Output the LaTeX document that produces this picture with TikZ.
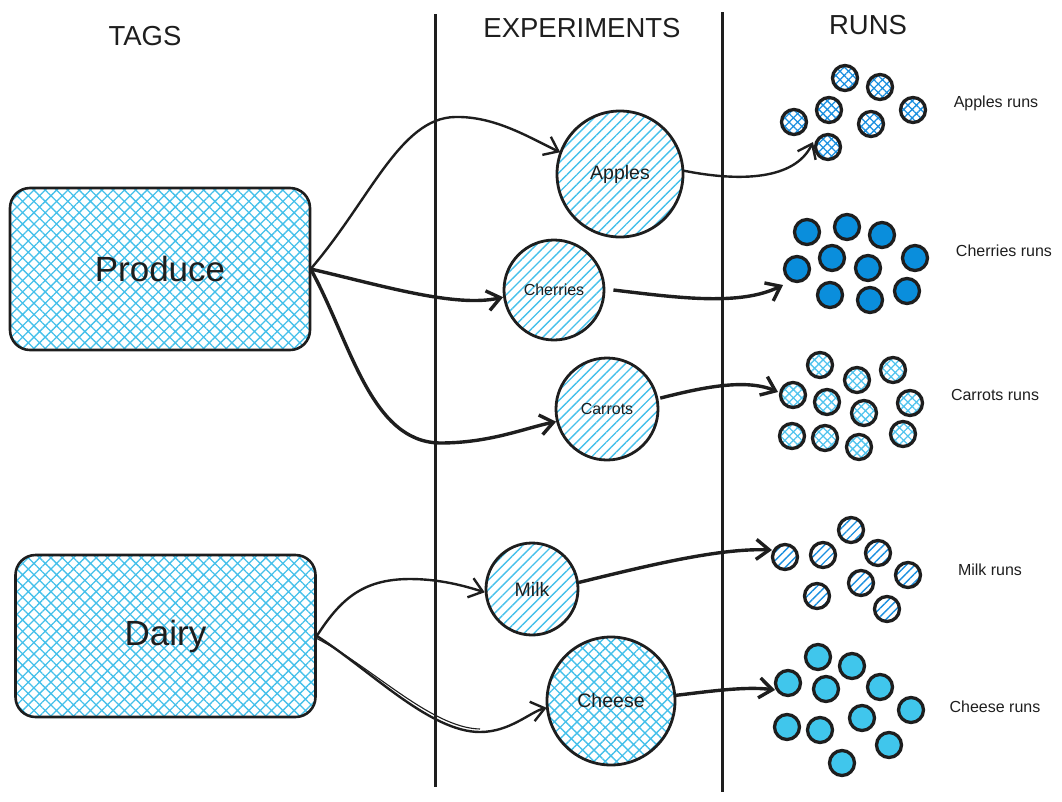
\documentclass[tikz,border=0pt]{standalone}
\usepackage{fontspec}
\setmainfont{Liberation Sans}
\usetikzlibrary{patterns.meta,arrows.meta}
\definecolor{hatchc}{HTML}{45C0EA}
\definecolor{deepc}{HTML}{1A8FE0}
\definecolor{cherryc}{HTML}{0A8EDC}
\definecolor{cheesec}{HTML}{40C6EC}
\definecolor{carrotc}{HTML}{52C4EE}
\definecolor{ink}{HTML}{1E1E1E}
\begin{document}
\begin{tikzpicture}[x=1pt,y=-1pt,
  tagbox/.style={draw=ink, line width=2.6pt, rounded corners=20pt, minimum width=300pt, minimum height=162pt,
    pattern={Hatch[angle=45,distance=8pt,line width=1.3pt]}, pattern color=hatchc,
    font=\fontsize{35}{40}\selectfont, text=ink},
  expc/.style={circle, draw=ink, line width=2.8pt, inner sep=0pt, text=ink,
    pattern={Lines[angle=45,distance=7pt,line width=1.4pt]}, pattern color=hatchc},
  expx/.style={circle, draw=ink, line width=2.8pt, inner sep=0pt, text=ink,
    pattern={Hatch[angle=45,distance=8pt,line width=1.4pt]}, pattern color=hatchc},
  runbase/.style={circle, draw=ink, line width=3.3pt, inner sep=0pt, minimum size=25pt},
  runA/.style={runbase, pattern={Hatch[angle=45,distance=6pt,line width=1.3pt]}, pattern color=deepc},
  runB/.style={runbase, fill=cherryc},
  runC/.style={runbase, pattern={Hatch[angle=45,distance=6pt,line width=1.3pt]}, pattern color=carrotc},
  runD/.style={runbase, pattern={Lines[angle=45,distance=6pt,line width=1.4pt]}, pattern color=deepc},
  runE/.style={runbase, fill=cheesec},
  header/.style={font=\fontsize{27.5}{32}\selectfont, text=ink},
  runlabel/.style={font=\fontsize{16}{19}\selectfont, text=ink},
  arr/.style={draw=ink, line width=2.4pt, -{Straight Barb[length=13pt,width=20pt]}},
  arrthick/.style={arr, line width=3.4pt},
  divider/.style={draw=ink, line width=3pt}
]
\useasboundingbox (0,0) rectangle (1062,801);

% dividers
\coordinate (v1t) at (435,14); \coordinate (v1b) at (435,787);
\coordinate (v2t) at (722,12); \coordinate (v2b) at (722,792);
\draw[divider] (v1t) -- (v1b);
\draw[divider] (v2t) -- (v2b);

% headers
\node[header] (htags) at (145,36) {TAGS};
\node[header] (hexp) at (582,28) {EXPERIMENTS};
\node[header] (hruns) at (868,25) {RUNS};

% tags
\node[tagbox] (produce) at (160,269) {Produce};
\node[tagbox] (dairy) at (165.5,636) {Dairy};

% experiments
\node[expc, minimum size=126pt, font=\fontsize{19.5}{23}\selectfont] (apples) at (620,174) {Apples};
\node[expc, minimum size=100pt, font=\fontsize{16}{19}\selectfont] (cherries) at (554,290) {Cherries};
\node[expc, minimum size=102pt, font=\fontsize{16}{19}\selectfont] (carrots) at (607,409) {Carrots};
\node[expc, minimum size=92pt, font=\fontsize{19.5}{23}\selectfont] (milk) at (532,589) {Milk};
\node[expx, minimum size=128pt, font=\fontsize{19.5}{23}\selectfont] (cheese) at (611,701) {Cheese};

% apples runs
\node[runA] (a1) at (845,78) {};
\node[runA] (a2) at (880,87) {};
\node[runA] (a3) at (829,110) {};
\node[runA] (a4) at (794,122) {};
\node[runA] (a5) at (913,110) {};
\node[runA] (a6) at (871,124) {};
\node[runA] (a7) at (828,147) {};
% cherries runs
\node[runB] (c1) at (807,232) {};
\node[runB] (c2) at (847,227) {};
\node[runB] (c3) at (882,235) {};
\node[runB] (c4) at (832,258) {};
\node[runB] (c5) at (797,269) {};
\node[runB] (c6) at (868,268) {};
\node[runB] (c7) at (915,258) {};
\node[runB] (c8) at (830,295) {};
\node[runB] (c9) at (870,300) {};
\node[runB] (c10) at (907,291) {};
% carrots runs
\node[runC] (k1) at (820,365) {};
\node[runC] (k2) at (857,380) {};
\node[runC] (k3) at (893,370) {};
\node[runC] (k4) at (793,395) {};
\node[runC] (k5) at (827,402) {};
\node[runC] (k6) at (864,413) {};
\node[runC] (k7) at (910,403) {};
\node[runC] (k8) at (792,436) {};
\node[runC] (k9) at (825,438) {};
\node[runC] (k10) at (859,447) {};
\node[runC] (k11) at (903,434) {};
% milk runs
\node[runD] (m1) at (851,530) {};
\node[runD] (m2) at (785,557) {};
\node[runD] (m3) at (823,555) {};
\node[runD] (m4) at (878,553) {};
\node[runD] (m5) at (908,575) {};
\node[runD] (m6) at (861,583) {};
\node[runD] (m7) at (817,596) {};
\node[runD] (m8) at (887,609) {};
% cheese runs
\node[runE] (e1) at (818,657) {};
\node[runE] (e2) at (852,666) {};
\node[runE] (e3) at (788,683) {};
\node[runE] (e4) at (826,689) {};
\node[runE] (e5) at (880,687) {};
\node[runE] (e6) at (911,710) {};
\node[runE] (e7) at (862,718) {};
\node[runE] (e8) at (787,727) {};
\node[runE] (e9) at (820,730) {};
\node[runE] (e10) at (889,745) {};
\node[runE] (e11) at (842,763) {};

% run labels
\node[runlabel] (la) at (996,103) {Apples runs};
\node[runlabel] (lc) at (1004,251) {Cherries runs};
\node[runlabel] (lk) at (995,395) {Carrots runs};
\node[runlabel] (lm) at (990,570) {Milk runs};
\node[runlabel] (le) at (995,707) {Cheese runs};

% arrow tips near run groups
\coordinate (ta) at (813,142);
\coordinate (tc) at (783,285);
\coordinate (tk) at (778,392);
\coordinate (tm) at (772,550);
\coordinate (te) at (775,690);

% tag -> experiment arrows
\draw[arr] (produce.east) .. controls (370,200) and (400,118) .. (455,117)
  .. controls (495,116) and (530,138) .. (apples.160);
\draw[arrthick] (produce.east) .. controls (380,285) and (455,308) .. (cherries.188);
\draw[arrthick] (produce.east) .. controls (350,340) and (370,442) .. (440,443)
  .. controls (490,443) and (525,428) .. (carrots.194);
\draw[arr] (dairy.east) .. controls (340,600) and (362,579) .. (410,579)
  .. controls (440,579) and (465,586) .. (milk.184);
\draw[arr] (dairy.east) .. controls (370,670) and (430,732) .. (480,732)
  .. controls (510,732) and (530,712) .. (cheese.186);
\draw[draw=ink, line width=1.1pt] ([yshift=-2.5pt]dairy.east) .. controls (371,666) and (431,728) .. (480,729);

% experiment -> runs arrows
\draw[arr] (apples.3) .. controls (740,182) and (795,180) .. (ta);
\draw[arrthick] ([xshift=8pt]cherries.east) .. controls (680,298) and (740,306) .. (tc);
\draw[arrthick] ([xshift=2pt]carrots.12) .. controls (700,388) and (745,378) .. (tk);
\draw[arrthick] (milk.8) .. controls (650,565) and (720,548) .. (tm);
\draw[arrthick] (cheese.5) .. controls (705,692) and (745,686) .. (te);
\end{tikzpicture}
\end{document}
